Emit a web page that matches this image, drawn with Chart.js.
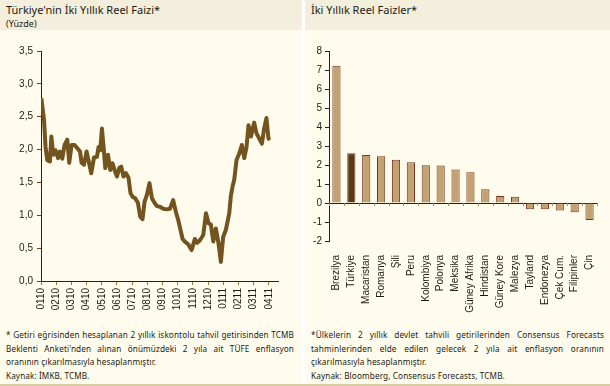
<!DOCTYPE html>
<html>
<head>
<meta charset="utf-8">
<script src="https://cdn.jsdelivr.net/npm/chart.js@4"></script>
<style>
  html, body { margin: 0; padding: 0; }
  body { width: 610px; height: 386px; background: #fffcee; position: relative; overflow: hidden;
         font-family: "Liberation Sans", Arial, sans-serif; }
  .band { position: absolute; top: 0; height: 30px; background: #f4eedd; }
  .title { position: absolute; font-family: "Noto Sans", sans-serif; font-size: 11px; color: #1d1a10; }
  .sub { position: absolute; font-family: "Noto Sans", sans-serif; font-size: 9px; color: #1d1a10; }
  .gap { position: absolute; left: 302px; top: 0; width: 3px; height: 386px; background: #ffffff; }
  .note { position: absolute; top: 328px; font-family: "Noto Sans", sans-serif; font-size: 8.2px;
          line-height: 13.5px; color: #1d1a10; text-align: justify; }
  .note p { margin: 0; }
  .foot { position: absolute; left: 0; top: 384px; width: 610px; height: 2px; background: #d9cba4; }
  canvas { position: absolute; top: 0; }
</style>
</head>
<body>
<div class="band" style="left:0;width:302px"></div>
<div class="band" style="left:305px;width:305px"></div>
<div class="gap"></div>
<div class="title" style="left:6px;top:2px">Türkiye'nin İki Yıllık Reel Faizi*</div>
<div class="sub" style="left:6px;top:17px">(Yüzde)</div>
<div class="title" style="left:311px;top:2px">İki Yıllık Reel Faizler*</div>

<canvas id="leftChart" width="302" height="325" style="left:0;width:302px;height:325px"></canvas>
<canvas id="rightChart" width="305" height="325" style="left:305px;width:305px;height:325px"></canvas>

<div class="note" style="left:6px;width:288px;letter-spacing:0.1px">
  <p>* Getiri eğrisinden hesaplanan 2 yıllık iskontolu tahvil getirisinden TCMB Beklenti Anketi'nden alınan önümüzdeki 2 yıla ait TÜFE enflasyon oranının çıkarılmasıyla hesaplanmıştır.</p>
  <p>Kaynak: İMKB, TCMB.</p>
</div>
<div class="note" style="left:311px;width:293px;letter-spacing:0.12px">
  <p>*Ülkelerin 2 yıllık devlet tahvili getirilerinden Consensus Forecasts tahminlerinden elde edilen gelecek 2 yıla ait enflasyon oranının çıkarılmasıyla hesaplanmıştır.</p>
  <p>Kaynak: Bloomberg, Consensus Forecasts, TCMB.</p>
</div>
<div class="foot"></div>

<script>
// month labels (MMYY), one per month from Jan 2010
const monthLabels = ["0110","0210","0310","0410","0510","0610","0710","0810","0910","1010","1110","1210","0111","0211","0311","0411"];

// position in months since start of Jan 2010
const realMonths = [0.02,0.20,0.30,0.41,0.59,0.68,0.81,0.96,1.12,1.25,1.40,1.55,1.73,1.86,2.01,2.21,2.39,2.57,2.67,2.83,
  3.00,3.16,3.31,3.49,3.68,3.79,3.90,4.01,4.12,4.23,4.41,4.56,4.71,4.84,5.00,5.15,5.28,5.43,5.59,5.76,
  5.89,6.03,6.20,6.38,6.53,6.68,6.82,6.97,7.14,7.30,7.47,7.63,7.83,8.05,8.26,8.49,8.70,8.88,9.03,9.18,
  9.32,9.47,9.69,9.91,10.13,10.28,10.46,10.68,10.86,11.03,11.18,11.34,11.51,11.68,11.84,11.99,12.17,12.39,12.50,12.62,
  12.72,12.87,13.05,13.22,13.38,13.53,13.66,13.82,14.03,14.18,14.36,14.54,14.69,14.84,14.97,15.07];
// two-year real rate, percent
const realRate = [2.78,2.45,2.04,1.84,1.82,2.20,1.92,1.99,1.87,1.97,1.86,2.07,2.15,1.80,2.07,2.07,2.02,1.97,1.80,1.77,
  1.97,1.80,1.64,1.88,1.89,2.04,1.99,2.32,2.04,1.72,1.92,1.69,1.79,1.69,1.59,1.72,1.74,1.59,1.64,1.57,
  1.34,1.28,1.26,1.19,0.98,0.94,1.21,1.31,1.49,1.26,1.19,1.14,1.13,1.10,1.09,1.10,1.23,1.05,0.93,0.78,
  0.64,0.60,0.56,0.47,0.64,0.58,0.62,0.70,1.03,0.88,0.86,0.60,0.80,0.58,0.29,0.67,0.78,1.03,1.30,1.45,
  1.54,1.84,1.94,2.07,1.87,2.04,2.37,2.20,2.41,2.25,2.17,2.09,2.32,2.48,2.17,2.15];

// right chart: countries and their two-year real rates
const countries = ["Brezilya","Türkiye","Macaristan","Romanya","Şili","Peru","Kolombiya","Polonya","Meksika","Güney Afrika","Hindistan","Güney Kore","Malezya","Tayland","Endonezya","Çek Cum.","Filipinler","Çin"];
const countryRates = [7.22,2.62,2.53,2.46,2.27,2.14,1.99,1.97,1.76,1.62,0.72,0.37,0.33,-0.33,-0.33,-0.39,-0.49,-0.90];

const tickFont = { family: "Liberation Sans", size: 10 };
const tickColor = "#1d1a10";

const linePoints = realMonths.map((m, i) => ({ x: m, y: realRate[i] }));

new Chart(document.getElementById("leftChart"), {
  type: "line",
  data: {
    datasets: [
      { data: linePoints, borderColor: "#73541f", borderWidth: 4, pointRadius: 0, tension: 0, borderJoinStyle: "round" },
      { data: linePoints, borderColor: "#947544", borderWidth: 2, pointRadius: 0, tension: 0, borderJoinStyle: "round" }
    ]
  },
  options: {
    responsive: false,
    animation: false,
    layout: { padding: { top: 51, right: 24, left: 0, bottom: 0 } },
    plugins: { legend: { display: false }, tooltip: { enabled: false } },
    scales: {
      x: {
        type: "linear",
        min: 0,
        max: 15.6,
        afterFit: s => { s.height = 44; },
        border: { color: "#222", width: 1 },
        grid: { drawOnChartArea: false, tickLength: 4, color: "#a07a30" },
        ticks: {
          stepSize: 1,
          includeBounds: false,
          autoSkip: false,
          maxRotation: 90,
          minRotation: 90,
          padding: 3,
          font: tickFont,
          color: tickColor,
          callback: v => monthLabels[Math.round(v)]
        }
      },
      y: {
        min: 0,
        max: 3.5,
        afterFit: s => { s.width = 41; },
        border: { color: "#222", width: 1 },
        grid: { drawOnChartArea: false, tickLength: 4, color: "#7a3a20" },
        ticks: {
          stepSize: 0.5,
          padding: 4,
          font: tickFont,
          color: tickColor,
          callback: v => v.toFixed(1).replace(".", ",")
        }
      }
    }
  }
});

// short tick marks under the zero line, between categories
const zeroTicks = {
  id: "zeroTicks",
  afterDatasetsDraw(chart) {
    const x = chart.scales.x, y = chart.scales.y, ctx = chart.ctx;
    const y0 = y.getPixelForValue(0);
    ctx.save();
    ctx.strokeStyle = "#a8884a";
    ctx.lineWidth = 1;
    for (let i = 0; i <= countries.length; i++) {
      const px = Math.round(x.getPixelForValue(i - 0.5)) + 0.5;
      ctx.beginPath();
      ctx.moveTo(px, y0);
      ctx.lineTo(px, y0 + 3);
      ctx.stroke();
    }
    ctx.restore();
  }
};

new Chart(document.getElementById("rightChart"), {
  type: "bar",
  data: {
    labels: countries,
    datasets: [{
      data: countryRates,
      backgroundColor: countries.map(c => c === "Türkiye" ? "#5a3a16" : "#c2a271"),
      borderColor: "#7a3324",
      borderWidth: 1,
      categoryPercentage: 1,
      barPercentage: 0.55
    }]
  },
  plugins: [zeroTicks],
  options: {
    responsive: false,
    animation: false,
    layout: { padding: { top: 51, right: 13, left: 0, bottom: 0 } },
    plugins: { legend: { display: false }, tooltip: { enabled: false } },
    scales: {
      x: {
        afterFit: s => { s.height = 84; },
        border: { display: false },
        grid: { display: false },
        ticks: {
          autoSkip: false,
          maxRotation: 90,
          minRotation: 90,
          padding: 6,
          font: tickFont,
          color: tickColor
        }
      },
      y: {
        min: -2,
        max: 8,
        afterFit: s => { s.width = 24; },
        border: { color: "#222", width: 1 },
        grid: {
          drawTicks: true,
          tickLength: 4,
          color: ctx => ctx.tick && ctx.tick.value === 0 ? "#222" : "rgba(0,0,0,0)",
          tickColor: "#222"
        },
        ticks: { stepSize: 1, padding: 3, font: tickFont, color: tickColor }
      }
    }
  }
});
</script>
</body>
</html>
